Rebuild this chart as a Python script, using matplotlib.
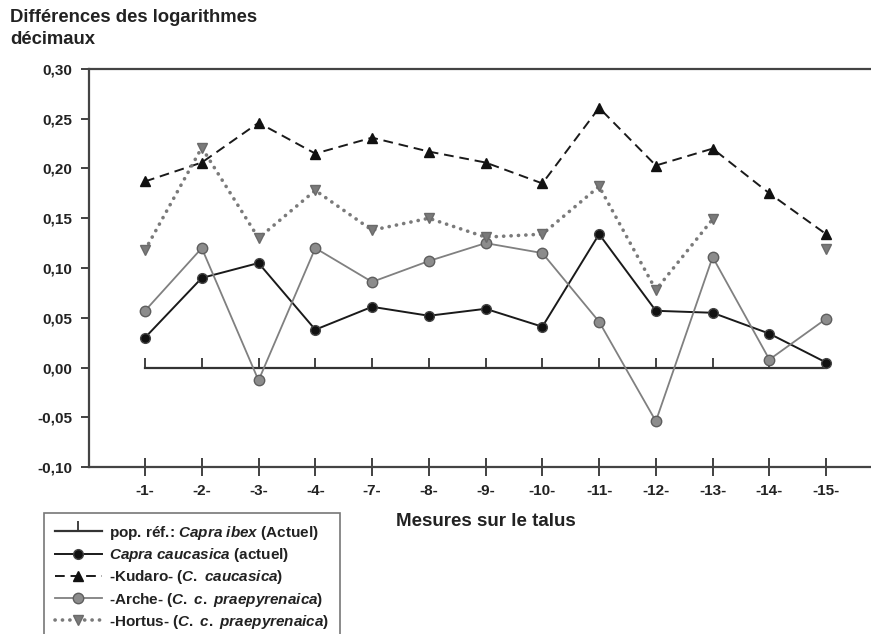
import numpy as np
import matplotlib
matplotlib.use("Agg")
import matplotlib.pyplot as plt

plt.rcParams['font.family'] = ['Liberation Sans', 'DejaVu Sans']
plt.rcParams['font.weight'] = 'bold'
plt.rcParams['mathtext.fontset'] = 'custom'
plt.rcParams['mathtext.rm'] = 'Liberation Sans:bold'
plt.rcParams['mathtext.it'] = 'Liberation Sans:bold:italic'
plt.rcParams['mathtext.bf'] = 'Liberation Sans:bold'
plt.rcParams['mathtext.bfit'] = 'Liberation Sans:bold:italic'

mesures = ['-1-', '-2-', '-3-', '-4-', '-7-', '-8-', '-9-', '-10-',
           '-11-', '-12-', '-13-', '-14-', '-15-']
ibex = [0.0] * 13
caucasica = [0.030, 0.090, 0.105, 0.038, 0.061, 0.052, 0.059, 0.041,
             0.134, 0.057, 0.055, 0.034, 0.005]
kudaro = [0.187, 0.206, 0.246, 0.215, 0.231, 0.217, 0.206, 0.185,
          0.261, 0.203, 0.220, 0.175, 0.134]
arche = [0.057, 0.120, -0.013, 0.120, 0.086, 0.107, 0.125, 0.115,
         0.046, -0.054, 0.111, 0.008, 0.049]
hortus = [0.118, 0.221, 0.130, 0.178, 0.138, 0.150, 0.131, 0.134,
          0.182, 0.078, 0.149, np.nan, 0.119]

x = np.arange(len(mesures))

fig = plt.figure(figsize=(8.71, 6.34), dpi=100)
ax = fig.add_axes([89/871, 1 - 467/634, 1 - 89/871, (467 - 69)/634])

ax.plot(x, ibex, color='#333333', lw=1.6, marker=2, markersize=7, mew=1.3,
        label=r'pop. réf.: $\mathit{Capra}$ $\mathit{ibex}$ (Actuel)')
ax.plot(x, caucasica, color='#1a1a1a', lw=1.4, marker='o', markersize=7,
        mfc='#111111', mec='#444444',
        label=r'$\mathit{Capra}$ $\mathit{caucasica}$ (actuel)')
ax.plot(x, kudaro, color='#1a1a1a', lw=1.4, linestyle=(0, (5, 3)),
        marker='^', markersize=7.5, mfc='#111111', mec='#111111',
        label=r'-Kudaro- ($\mathit{C.}$ $\mathit{caucasica}$)')
ax.plot(x, arche, color='#808080', lw=1.3, marker='o', markersize=7.5,
        mfc='#8c8c8c', mec='#5e5e5e',
        label=r'-Arche- ($\mathit{C.}$ $\mathit{c.}$ $\mathit{praepyrenaica}$)')
ax.plot(x, hortus, color='#7a7a7a', lw=2.6, linestyle=(0, (0.05, 2.0)),
        dash_capstyle='round', marker='v', markersize=7.5,
        mfc='#7a7a7a', mec='#6a6a6a',
        label=r'-Hortus- ($\mathit{C.}$ $\mathit{c.}$ $\mathit{praepyrenaica}$)')

ax.set_xlim(-0.987, 12.79)
ax.set_ylim(-0.10, 0.30)
ax.set_xticks(x)
ax.set_xticklabels(mesures)
ax.set_yticks(np.arange(-0.10, 0.301, 0.05))
ax.set_yticklabels([('%.2f' % v).replace('.', ',') for v in np.arange(-0.10, 0.301, 0.05)])
ax.tick_params(axis='y', direction='out', length=6, width=1.3, colors='#333333',
               labelsize=11, pad=6, labelcolor='#222222')
ax.tick_params(axis='x', direction='inout', length=13, width=1.3, colors='#333333',
               labelsize=11, pad=6, labelcolor='#222222')

for s in ['left', 'bottom', 'top']:
    ax.spines[s].set_color('#444444')
    ax.spines[s].set_linewidth(1.6)
ax.spines['right'].set_visible(False)

fig.text(10/871, 1 - 17/634, 'Différences des logarithmes',
         fontsize=13.3, fontweight='bold', va='center', ha='left',
         color='#222222')
fig.text(10/871, 1 - 39/634, 'décimaux',
         fontsize=13.3, fontweight='bold', va='center', ha='left',
         color='#222222')
fig.text(486/871, 1 - 522/634, 'Mesures sur le talus', fontsize=13.5,
         fontweight='bold', ha='center', va='center', color='#222222')

leg = fig.legend(loc='upper left', bbox_to_anchor=(44/871, 1 - 513/634),
                 frameon=True, fancybox=False, fontsize=11, handlelength=3.1,
                 handletextpad=0.45, labelspacing=0.28, borderpad=0.7,
                 borderaxespad=0)
leg.get_frame().set_edgecolor('#555555')
leg.get_frame().set_linewidth(1.2)
for t in leg.get_texts():
    t.set_color('#222222')

fig.savefig('out.png', dpi=100)
